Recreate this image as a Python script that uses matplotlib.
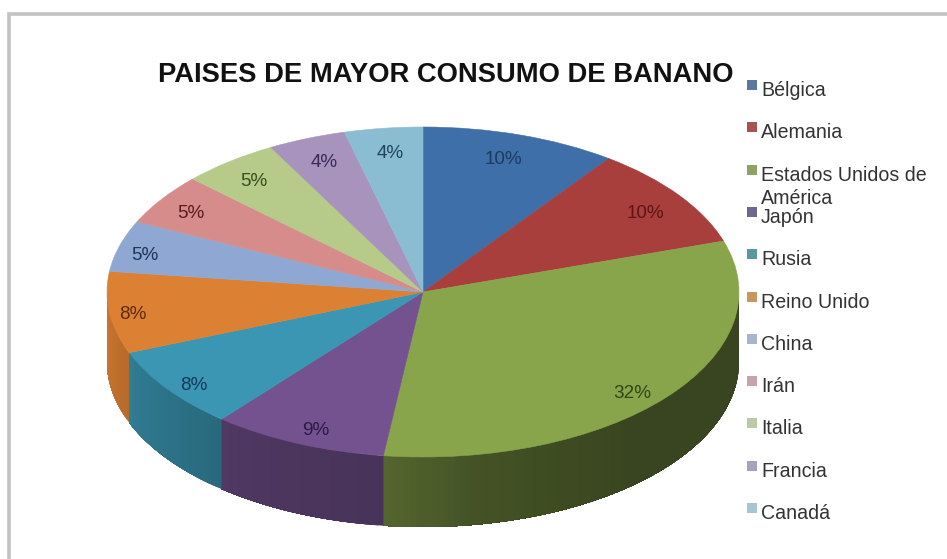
import numpy as np
import matplotlib
matplotlib.use("Agg")
import matplotlib.pyplot as plt
from matplotlib.colors import to_rgb
from matplotlib.lines import Line2D
from matplotlib.patches import Rectangle

plt.rcParams['font.family'] = ['Liberation Sans', 'DejaVu Sans']

# Consumption share per country, percent
paises = ["Bélgica", "Alemania", "Estados Unidos de\nAmérica", "Japón", "Rusia",
          "Reino Unido", "China", "Irán", "Italia", "Francia", "Canadá"]
consumo = [10, 10, 32, 9, 8, 8, 5, 5, 5, 4, 4]

colores = ["#3f6fa8", "#a93f3c", "#88a54b", "#73528f", "#3a96b2", "#dc8133",
           "#8ea8d3", "#d58c8a", "#b6cb8a", "#a893bd", "#8abdd2"]
colores_leyenda = ["#5a789f", "#a85254", "#8ea266", "#6d6790", "#58999f", "#c9965f",
                   "#a7b4d2", "#c8a3ae", "#bcc9a8", "#a5a3bd", "#a6c6d1"]
colores_texto = ["#1d3a60", "#5c1715", "#33451a", "#2b1a44", "#123a5c", "#5f2a10",
                 "#1f3358", "#5c1a1e", "#33501f", "#3a2a58", "#1f4560"]
# Placement of each percentage along its mid-angle, as fractions of the radii
radio_x = [0.82, 0.872, 0.859, 0.853, 0.896, 0.925, 0.915, 0.889, 0.873, 0.852, 0.83]
radio_y = [0.854, 0.835, 0.95, 0.904, 0.948, 1.0, 0.834, 0.867, 0.861, 0.856, 0.86]

W, H = 947, 559
CX, CY, RX, RY, PROF = 423, 292, 316, 165, 70  # pie geometry in pixels

fig = plt.figure(figsize=(W / 100, H / 100), dpi=100, facecolor="white")
ax = fig.add_axes([0, 0, 1, 1])

# Pie in unit coordinates; the axes limits squash the circle into an ellipse
cunas, _ = ax.pie(consumo, colors=colores, startangle=90, counterclock=False,
                  radius=1, center=(0, 0), frame=True)
for c, col in zip(cunas, colores):
    c.set_edgecolor(col)
    c.set_linewidth(0.4)
    c.set_zorder(5)
ax.set_aspect("auto")
ax.set_xlim(-CX / RX, (W - CX) / RX)
ax.set_ylim((CY - H) / RY, CY / RY)
ax.axis("off")

# Side wall: overlapping shaded strips, darker toward the right of the pie
profundidad = PROF / RY
angulos_luz = [90, 140, 170, 187, 215, 250, 272]
factor_luz = [0.42, 0.42, 0.50, 0.62, 0.68, 0.84, 0.94]
limites = np.concatenate([[0], np.cumsum(consumo)]) * 3.6
for i, col in enumerate(colores):
    a0, a1 = max(limites[i], 90), min(limites[i + 1], 270)
    if a1 <= a0:
        continue
    base = np.array(to_rgb(col))
    pasos = np.linspace(a0, a1, int(a1 - a0) + 2)
    for t0 in pasos[:-1]:
        # each strip reaches to the slice end, so the next one paints over it
        t = np.radians(np.linspace(t0, a1, max(int(a1 - t0), 2) + 1))
        x, y = np.sin(t), np.cos(t)
        tono = base * np.interp(t0, angulos_luz, factor_luz)
        ax.fill(np.r_[x, x[::-1]], np.r_[y, y[::-1] - profundidad],
                facecolor=tono, edgecolor="none", zorder=2)

# Percentage labels at each slice's mid-angle, nudged down to sit optically centred
for i, v in enumerate(consumo):
    t = np.radians((limites[i] + limites[i + 1]) / 2)
    ax.text(radio_x[i] * np.sin(t), radio_y[i] * np.cos(t) - 2 / RY, f"{v}%", ha="center",
            va="center", fontsize=13.6, color=colores_texto[i], zorder=6)

fig.text(446 / W, 1 - 75 / H, "PAISES DE MAYOR CONSUMO DE BANANO", ha="center",
         va="center", fontsize=19.75, fontweight="bold", color="#111111")

# Hand-spaced legend: the wrapped entry does not push the following rows down
for i, (nombre, col) in enumerate(zip(paises, colores_leyenda)):
    y_px = 85 + i * 42.3
    fig.add_artist(Rectangle((747 / W, 1 - (y_px + 5) / H), 10 / W, 10 / H,
                             transform=fig.transFigure, facecolor=col, edgecolor="none"))
    partes = nombre.split("\n")
    fig.text(761 / W, 1 - (y_px + 5.5) / H, partes[0], ha="left", va="center",
             fontsize=14.1, color="#333333")
    if len(partes) > 1:
        fig.text(761 / W, 1 - (y_px + 29) / H, partes[1], ha="left", va="center",
                 fontsize=14.1, color="#333333")

# Grey chart frame running off the right and bottom edges
fig.add_artist(Line2D([9 / W, 9 / W, 1], [0, 1 - 13.5 / H, 1 - 13.5 / H],
                      transform=fig.transFigure, color="#c2c2c2", linewidth=2.6,
                      solid_joinstyle="miter"))

fig.savefig("out.png", dpi=100, facecolor="white")
